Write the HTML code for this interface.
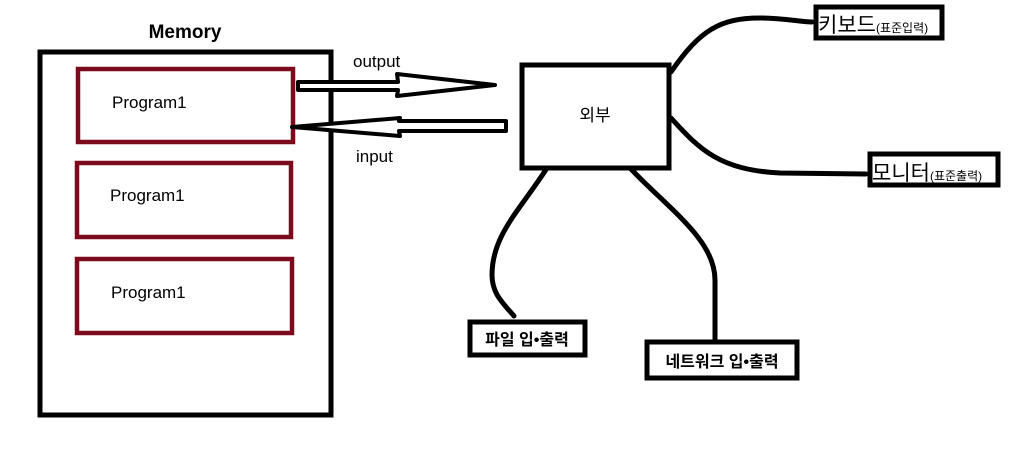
<!DOCTYPE html>
<html><head><meta charset="utf-8"><style>
body{margin:0;background:#fff;}
svg{display:block;font-family:"Liberation Sans","Noto Sans CJK KR",sans-serif;}
</style></head><body>
<svg width="1021" height="459" viewBox="0 0 1021 459" xmlns="http://www.w3.org/2000/svg">
<rect width="1021" height="459" fill="#fff"/>
<text x="185" y="38" font-size="19" font-weight="bold" text-anchor="middle">Memory</text>
<rect x="40" y="52" width="291" height="363" fill="none" stroke="#000" stroke-width="5"/>
<g fill="none" stroke="#7b0a1c" stroke-width="4.5">
<rect x="78" y="69" width="215" height="73"/>
<rect x="77" y="163" width="214" height="74"/>
<rect x="77" y="259" width="215" height="74"/>
</g>
<g font-size="17">
<text x="112" y="108">Program1</text>
<text x="110" y="201">Program1</text>
<text x="111" y="298">Program1</text>
<text x="353" y="67">output</text>
<text x="356" y="162">input</text>
</g>
<g fill="#fff" stroke="#000" stroke-width="4" stroke-linejoin="round">
<polygon points="298,82 398,82 397,74 495,85 397,96 398,90 298,90"/>
<polygon points="292,127 400,118 399,121 506,121 506,131 399,131 400,136"/>
</g>
<rect x="522" y="65" width="147" height="103" fill="none" stroke="#000" stroke-width="5"/>
<text x="595" y="121" font-size="17" text-anchor="middle">외부</text>
<g fill="none" stroke="#000" stroke-width="5" stroke-linecap="round">
<path d="M671,72 C700,30 720,18 760,18 C785,18 800,22 812,22"/>
<path d="M671,118 C700,150 720,170 780,173 L866,174"/>
<path d="M547,168 C520,210 492,235 492,275 C492,295 505,305 514,316"/>
<path d="M630,168 C670,210 715,240 715,280 L715,340"/>
</g>
<g fill="#fff" stroke="#000" stroke-width="5">
<rect x="816" y="7" width="126" height="31"/>
<rect x="870" y="154" width="128" height="31"/>
<rect x="470" y="322" width="115" height="33"/>
<rect x="647" y="342" width="150" height="36"/>
</g>
<text x="818" y="32" font-size="21">키보드<tspan font-size="12">(표준입력)</tspan></text>
<text x="872" y="180" font-size="21">모니터<tspan font-size="12">(표준출력)</tspan></text>
<text x="527" y="345" font-size="16" font-weight="bold" text-anchor="middle">파일 입•출력</text>
<text x="722" y="367" font-size="16" font-weight="bold" text-anchor="middle">네트워크 입•출력</text>
</svg>
</body></html>
